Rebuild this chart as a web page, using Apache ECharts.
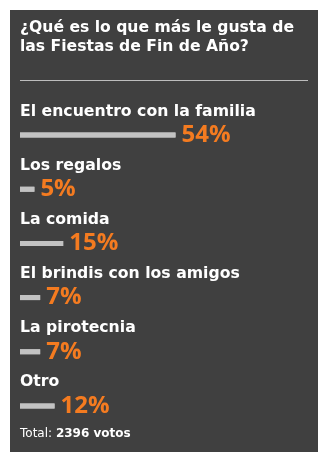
<!DOCTYPE html>
<html>
<head>
<meta charset="utf-8">
<script src="https://cdn.jsdelivr.net/npm/echarts@6/dist/echarts.min.js"></script>
<style>
html,body{margin:0;padding:0;background:#ffffff;}
#chart{width:328px;height:462px;}
</style>
</head>
<body>
<div id="chart"></div>
<script>
const titleText = '¿Qué es lo que más le gusta de\nlas Fiestas de Fin de Año?';
const categories = ['El encuentro con la familia', 'Los regalos', 'La comida', 'El brindis con los amigos', 'La pirotecnia', 'Otro'];
const values = [54, 5, 15, 7, 7, 12];
const totalVotes = 2396;

const FONT = 'DejaVu Sans';
const NUMFONT = 'Open Sans';
const chart = echarts.init(document.getElementById('chart'), null, {renderer: 'canvas'});
chart.setOption({
  backgroundColor: '#ffffff',
  animation: false,
  graphic: [
    {type: 'rect', z: -10, shape: {x: 10, y: 10, width: 308, height: 442}, style: {fill: '#404040'}},
    {type: 'line', shape: {x1: 20, y1: 80.5, x2: 308, y2: 80.5}, style: {stroke: '#bdbdbd', lineWidth: 1}},
    {type: 'text', left: 20, top: 428, style: {
      text: '{n|Total: }{b|' + totalVotes + ' votos}',
      rich: {
        n: {fontFamily: FONT, fontSize: 12, fontWeight: 'normal', fill: '#ffffff'},
        b: {fontFamily: FONT, fontSize: 12, fontWeight: 'bold', fill: '#ffffff'}
      }
    }}
  ],
  title: {
    text: titleText,
    left: 20 - 5, top: 18 - 5,
    textStyle: {fontFamily: FONT, fontSize: 15.6, fontWeight: 'bold', color: '#ffffff', lineHeight: 19}
  },
  grid: {left: 20, width: 288, top: 108, height: 325},
  xAxis: {type: 'value', min: 0, max: 100, show: false},
  yAxis: {type: 'category', data: categories, inverse: true, show: false},
  series: [
    {
      type: 'bar', data: values, barWidth: 5,
      itemStyle: {color: '#c2c2c2'},
      label: {show: true, position: 'right', distance: 6, formatter: '{c}%',
        fontFamily: NUMFONT, fontSize: 24, fontWeight: 'bold', color: '#f47b20'}
    },
    {
      type: 'bar', data: values, barWidth: 5, barGap: '-100%',
      itemStyle: {color: '#c2c2c2'},
      label: {show: true, position: [0, -21], verticalAlign: 'middle', align: 'left',
        formatter: function (p) { return categories[p.dataIndex]; },
        fontFamily: FONT, fontSize: 15.7, fontWeight: 'bold', color: '#ffffff'}
    }
  ]
});
</script>
</body>
</html>
